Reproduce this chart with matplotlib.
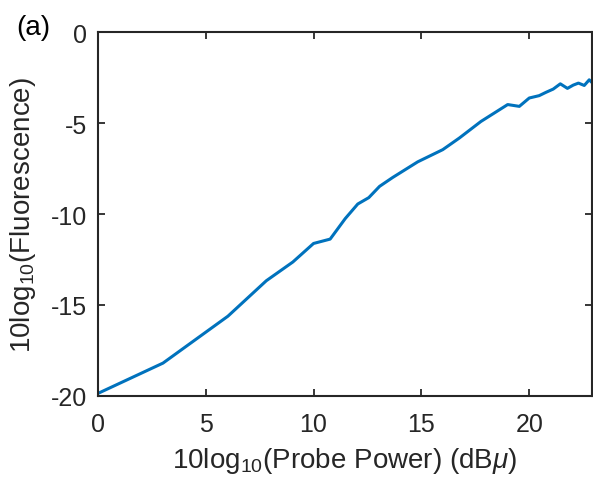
import numpy as np
import matplotlib.pyplot as plt

plt.rcParams['font.family'] = ['Liberation Sans', 'DejaVu Sans']
plt.rcParams['mathtext.fontset'] = 'custom'
plt.rcParams['mathtext.rm'] = 'Liberation Sans'
plt.rcParams['mathtext.it'] = 'Liberation Sans:italic'
plt.rcParams['axes.unicode_minus'] = False

# probe power (dB) and fluorescence (dB)
power = [0.0, 3.02, 6.03, 7.81, 9.04, 10.0, 10.77, 11.47, 12.05, 12.56, 13.06,
         13.67, 14.83, 15.99, 16.76, 17.76, 19.0, 19.54, 20.0, 20.46, 20.77,
         21.11, 21.44, 21.77, 22.04, 22.28, 22.55, 22.78, 22.9]
fluor = [-19.87, -18.2, -15.62, -13.67, -12.64, -11.62, -11.38, -10.25, -9.45,
         -9.1, -8.48, -7.99, -7.13, -6.46, -5.82, -4.91, -3.98, -4.08, -3.62,
         -3.49, -3.31, -3.13, -2.84, -3.09, -2.91, -2.8, -2.93, -2.62, -2.76]

fig = plt.figure(figsize=(5.93, 4.81), dpi=100)
ax = fig.add_axes([0.165, 0.175, 0.833, 0.756])
ax.plot(power, fluor, color='#0072BD', linewidth=2.2)

ax.set_xlim(0, 22.9)
ax.set_ylim(-20, 0)
ax.set_xticks([0, 5, 10, 15, 20])
ax.set_yticks([-20, -15, -10, -5, 0])
ax.tick_params(direction='in', top=True, right=True, length=5, width=1.3,
               labelsize=18, colors='#262626')
ax.tick_params(axis='x', pad=12)
ax.tick_params(axis='y', pad=8)
for s in ax.spines.values():
    s.set_linewidth(1.5)
    s.set_color('#262626')

ax.set_xlabel('10log$_{10}$(Probe Power) (dB$\\mathit{\\mu}$)', fontsize=20, color='#262626')
ax.set_ylabel('10log$_{10}$(Fluorescence)', fontsize=20, color='#262626')
ax.xaxis.set_label_coords(0.5, -0.135)
ax.yaxis.set_label_coords(-0.121, 0.5)
fig.text(0.028, 0.928, '(a)', fontsize=20, va='baseline')

fig.savefig('out.png', dpi=100)
